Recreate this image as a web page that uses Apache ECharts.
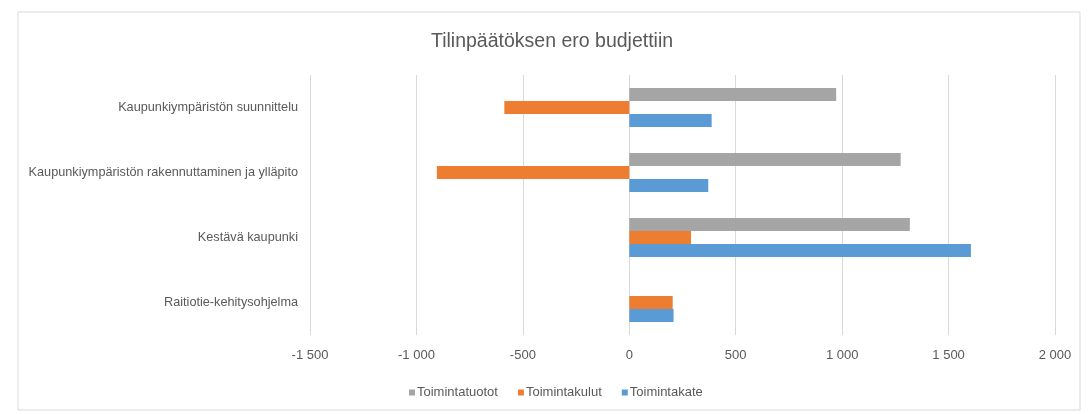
<!DOCTYPE html>
<html>
<head>
<meta charset="utf-8">
<script src="https://cdn.jsdelivr.net/npm/echarts@6/dist/echarts.min.js"></script>
<style>
  html, body { margin: 0; padding: 0; background: #fff; }
  #chart { width: 1088px; height: 414px; }
</style>
</head>
<body>
<div id="chart"></div>
<script>
// data
var categories = [
  'Kaupunkiympäristön suunnittelu',
  'Kaupunkiympäristön rakennuttaminen ja ylläpito',
  'Kestävä kaupunki',
  'Raitiotie-kehitysohjelma'
];
var seriesNames = ['Toimintatuotot', 'Toimintakulut', 'Toimintakate'];
var toimintatuotot = [972, 1275, 1318, null];
var toimintakulut = [-587, -904, 290, 204];
var toimintakate = [387, 371, 1605, 208];
var colors = ['#a5a5a5', '#ed7d31', '#5b9bd5'];

var font = '"Liberation Sans", Arial, sans-serif';

function fmt(v) {
  var s = String(Math.abs(v));
  if (s.length > 3) s = s.slice(0, s.length - 3) + ' ' + s.slice(s.length - 3);
  return (v < 0 ? '-' : '') + s;
}

var myChart = echarts.init(document.getElementById('chart'));
myChart.setOption({
  animation: false,
  color: colors,
  textStyle: { fontFamily: font },
  graphic: [{
    type: 'rect',
    shape: { x: 18, y: 12, width: 1062, height: 398 },
    style: { fill: 'none', stroke: '#d9d9d9', lineWidth: 1 }
  }],
  title: {
    text: 'Tilinpäätöksen ero budjettiin',
    left: 426,
    top: 27,
    textStyle: { fontFamily: font, fontSize: 19.5, fontWeight: 'normal', color: '#595959' }
  },
  legend: {
    data: seriesNames,
    top: 381,
    left: 404,
    itemWidth: 6,
    itemHeight: 6,
    itemGap: 20,
    icon: 'rect',
    textStyle: { fontFamily: font, fontSize: 13, color: '#595959', padding: [0, 0, 0, -3] }
  },
  grid: { left: 310, right: 33, top: 75, bottom: 79, containLabel: false, outerBoundsMode: 'none' },
  xAxis: {
    type: 'value',
    min: -1500,
    max: 2000,
    interval: 500,
    axisLine: { show: false },
    axisTick: { show: false },
    splitLine: { lineStyle: { color: '#d9d9d9' } },
    axisLabel: { formatter: fmt, color: '#595959', fontSize: 13, margin: 14, fontFamily: font }
  },
  yAxis: {
    type: 'category',
    data: categories,
    inverse: true,
    axisLine: { show: false },
    axisTick: { show: false },
    axisLabel: { color: '#595959', fontSize: 12.7, margin: 12, fontFamily: font }
  },
  series: [
    { name: seriesNames[0], type: 'bar', data: toimintatuotot, barGap: '0%', barCategoryGap: '40%' },
    { name: seriesNames[1], type: 'bar', data: toimintakulut, barGap: '0%', barCategoryGap: '40%' },
    { name: seriesNames[2], type: 'bar', data: toimintakate, barGap: '0%', barCategoryGap: '40%' }
  ]
});
</script>
</body>
</html>
